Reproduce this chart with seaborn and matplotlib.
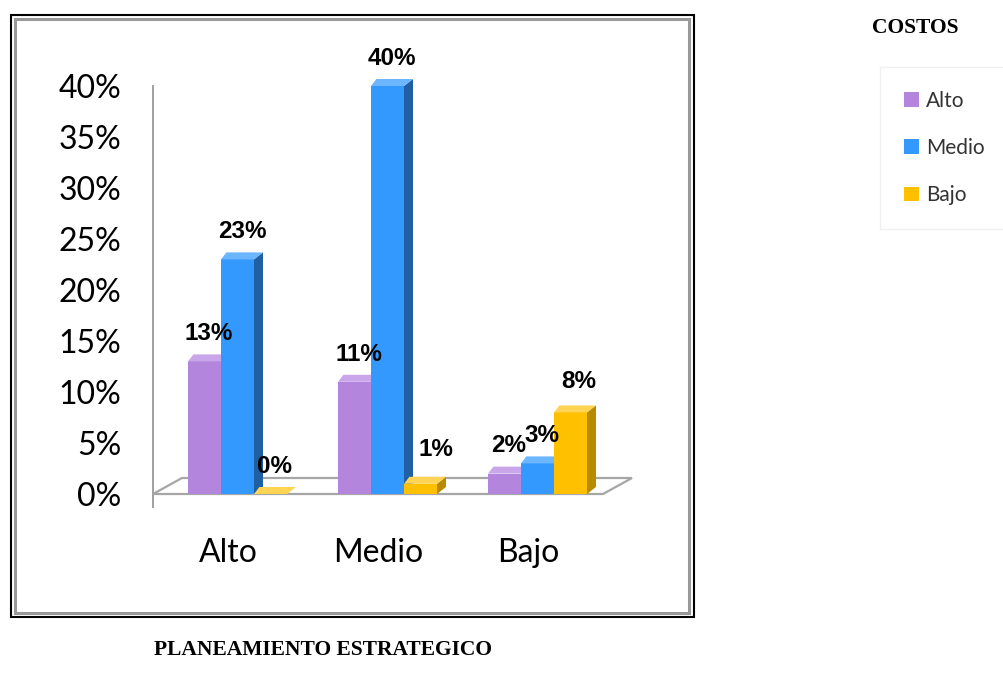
import matplotlib
matplotlib.use("Agg")
import matplotlib.pyplot as plt
from matplotlib.patches import Polygon, Rectangle
from matplotlib.ticker import FuncFormatter, FixedLocator
import seaborn as sns
import pandas as pd

# Categories and values (percent)
plan_levels = ["Alto", "Medio", "Bajo"]
cost_levels = ["Alto", "Medio", "Bajo"]
costo_alto = [13, 11, 2]
costo_medio = [23, 40, 3]
costo_bajo = [0, 1, 8]
y_ticks = [0, 5, 10, 15, 20, 25, 30, 35, 40]

front_colors = ["#B385DC", "#3399FF", "#FFC000"]
side_colors = ["#8659B3", "#1F5FA3", "#B88A00"]
top_colors = ["#C9A6EA", "#6CB6FF", "#FFD454"]

rows = []
for lvl, vals in zip(cost_levels, [costo_alto, costo_medio, costo_bajo]):
    for cat, v in zip(plan_levels, vals):
        rows.append({"plan": cat, "costos": lvl, "valor": v})
df = pd.DataFrame(rows)

sns.set_style("white")
plt.rcParams["font.family"] = ["Lato", "DejaVu Sans"]
plt.rcParams["text.color"] = "black"

W, H = 1004, 685
fig = plt.figure(figsize=(W / 100, H / 100), dpi=100)

# axes placed in pixel terms: y axis at x=153, 0% at y=494, 40% at y=86
ymin, ymax = -1.25, 40.5
px_per_unit = (494 - 86) / 40.0
left_px, right_px = 153, 603
bot_px = 494 + (0 - ymin) * px_per_unit
top_px = 494 - ymax * px_per_unit
ax = fig.add_axes([left_px / W, (H - bot_px) / H, (right_px - left_px) / W, (bot_px - top_px) / H])

sns.barplot(data=df, x="plan", y="valor", hue="costos", order=plan_levels,
            hue_order=cost_levels, palette=front_colors, width=0.66, dodge=True,
            saturation=1, edgecolor="none", linewidth=0, ax=ax, legend=True)

ax.set_xlim(-0.5, 2.5)
ax.set_ylim(ymin, ymax)
ax.set_xlabel("")
ax.set_ylabel("")

# 3-D look: floor, side faces, top faces
x_px_per_unit = (right_px - left_px) / 3.0
floor_dx, floor_dy = 29 / x_px_per_unit, 16 / px_per_unit
bar_dx, bar_dy = 9 / x_px_per_unit, 7 / px_per_unit
shift = 9.5 / x_px_per_unit

floor = Polygon([(-0.5, 0), (2.5, 0), (2.5 + floor_dx, floor_dy), (-0.5 + floor_dx, floor_dy)],
                closed=True, facecolor="white", edgecolor="#A6A6A6", linewidth=1.6,
                zorder=1, clip_on=False)
ax.add_patch(floor)

# small nudges (points) for labels that sit off-centre
label_nudge = {(2, 1): (8, 5), (2, 2): (3, 2)}

for i, cont in enumerate(ax.containers):
    for j, (patch, v) in enumerate(zip(cont.patches, cont.datavalues)):
        patch.set_x(patch.get_x() + shift)
        patch.set_zorder(3 + 2 * i)
        x0 = patch.get_x()
        x1 = x0 + patch.get_width()
        side = Polygon([(x1, 0), (x1, v), (x1 + bar_dx, v + bar_dy), (x1 + bar_dx, bar_dy)],
                       closed=True, facecolor=side_colors[i], edgecolor="none",
                       zorder=3 + 2 * i, clip_on=False)
        top = Polygon([(x0, v), (x1, v), (x1 + bar_dx, v + bar_dy), (x0 + bar_dx * 0.6, v + bar_dy)],
                      closed=True, facecolor=top_colors[i], edgecolor="none",
                      zorder=3 + 2 * i, clip_on=False)
        ax.add_patch(side)
        ax.add_patch(top)
        nx, ny = label_nudge.get((i, j), (0, 0))
        ax.annotate(f"{v:.0f}%", xy=(x0 + patch.get_width() / 2 + bar_dx / 2, v),
                    xytext=(nx, 20 + ny), textcoords="offset points", ha="center", va="center",
                    fontsize=17.5, fontweight="bold", family="Liberation Sans",
                    color="black", zorder=20, annotation_clip=False)

# axis styling
for s in ["top", "right"]:
    ax.spines[s].set_visible(False)
ax.spines["bottom"].set_visible(False)
ax.spines["bottom"].set_position(("data", 0))
ax.spines["left"].set_color("#A0A0A0")
ax.spines["left"].set_linewidth(1.4)
ax.spines["left"].set_bounds(ymin, 40)

ax.yaxis.set_major_locator(FixedLocator(y_ticks))
ax.yaxis.set_major_formatter(FuncFormatter(lambda v, p: f"{v:.0f}%"))
ax.tick_params(axis="y", direction="out", length=6, width=1.4, color="#A0A0A0",
               pad=17, labelsize=23, labelcolor="black")

ax.set_xticks([0, 1, 2])
ax.set_xticklabels(plan_levels)
ax.set_xticks([-0.5, 0.5, 1.5, 2.5], minor=True)
ax.tick_params(axis="x", which="major", length=0, pad=32, labelsize=23, labelcolor="black")
ax.tick_params(axis="x", which="minor", direction="out", length=9, width=1.4, color="#A0A0A0")

# legend outside the plot area
handles, labels = ax.get_legend_handles_labels()
ax.get_legend().remove()
leg = fig.legend(handles, labels, loc="upper left", bbox_to_anchor=(880 / W, 1 - 67 / H),
                 frameon=True, fancybox=False, fontsize=15, labelspacing=1.3,
                 handlelength=0.7, handleheight=0.7, handletextpad=0.35,
                 borderpad=1.15, borderaxespad=0)
leg.get_frame().set_edgecolor("#EDEDED")
leg.get_frame().set_linewidth(1.0)
for t in leg.get_texts():
    t.set_color("#333333")

fig.text(872 / W, 1 - 28 / H, "COSTOS", ha="left", va="center", color="black",
         family="Liberation Serif", fontweight="bold", fontsize=15.5)
fig.text(323 / W, 1 - 650 / H, "PLANEAMIENTO ESTRATEGICO", ha="center", va="center",
         color="black", family="Liberation Serif", fontweight="bold", fontsize=15.5)

# chart frame (double border)
fig.patches.append(Rectangle((11 / W, 1 - 617 / H), (694 - 11) / W, (617 - 15) / H,
                             transform=fig.transFigure, fill=False, edgecolor="black",
                             linewidth=1.5, zorder=0))
fig.patches.append(Rectangle((15.5 / W, 1 - 612.5 / H), (689.5 - 15.5) / W, (612.5 - 19) / H,
                             transform=fig.transFigure, fill=False, edgecolor="#999999",
                             linewidth=2.2, zorder=0))

fig.savefig("out.png", dpi=100)
